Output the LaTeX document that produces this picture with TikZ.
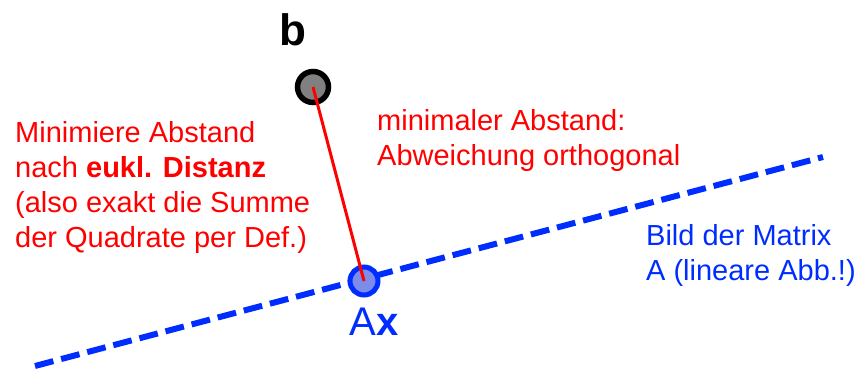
\documentclass[tikz,border=0pt]{standalone}
\usepackage{fontspec}
\setmainfont{Liberation Sans}
\usetikzlibrary{positioning}
\definecolor{lineblue}{RGB}{0,45,255}
\definecolor{dotgray}{RGB}{128,128,128}
\definecolor{dotblue}{RGB}{125,140,235}

\begin{document}
\begin{tikzpicture}[
    x=1pt, y=-1pt,
    point/.style={circle, inner sep=0pt, minimum size=31pt, line width=5.5pt},
    note/.style={anchor=base west, inner sep=0pt, align=left,
                 font=\fontsize{29}{35}\selectfont},
    biglabel/.style={inner sep=0pt, font=\fontsize{40}{40}\selectfont},
    imgline/.style={line width=6pt, draw=lineblue, dash pattern=on 19pt off 8pt},
    dist/.style={line width=3pt, red},
    node distance=12pt
  ]
    \useasboundingbox (0,0) rectangle (856,369);

    \coordinate (lstart) at (35,366);
    \coordinate (lend)   at (823,157);
    \draw[imgline] (lstart) -- (lend);

    \node[point, draw=lineblue, fill=dotblue, minimum size=28pt, line width=5pt] (axpt) at (364,281) {};
    \node[point, draw=black, fill=dotgray] (bpt) at (313,87) {};
    \draw[dist] (bpt.center) -- (axpt.center);

    \node[biglabel, font=\bfseries\fontsize{44}{44}\selectfont, above=23pt of bpt, xshift=-20pt] (blabel) {b};
    \node[biglabel, text=lineblue, below=10pt of axpt, xshift=10pt] (axlabel) {A\textbf{x}};

    \node[note, text=red] (leftnote) at (15,247)
      {Minimiere Abstand\\nach \textbf{eukl. Distanz}\\(also exakt die Summe\\der Quadrate per Def.)};
    \node[note, text=red] (orthnote) at (377,165)
      {minimaler Abstand:\\Abweichung orthogonal};
    \node[note, text=lineblue] (imgnote) at (646,280)
      {Bild der Matrix\\A (lineare Abb.!)};
  \end{tikzpicture}
\end{document}
